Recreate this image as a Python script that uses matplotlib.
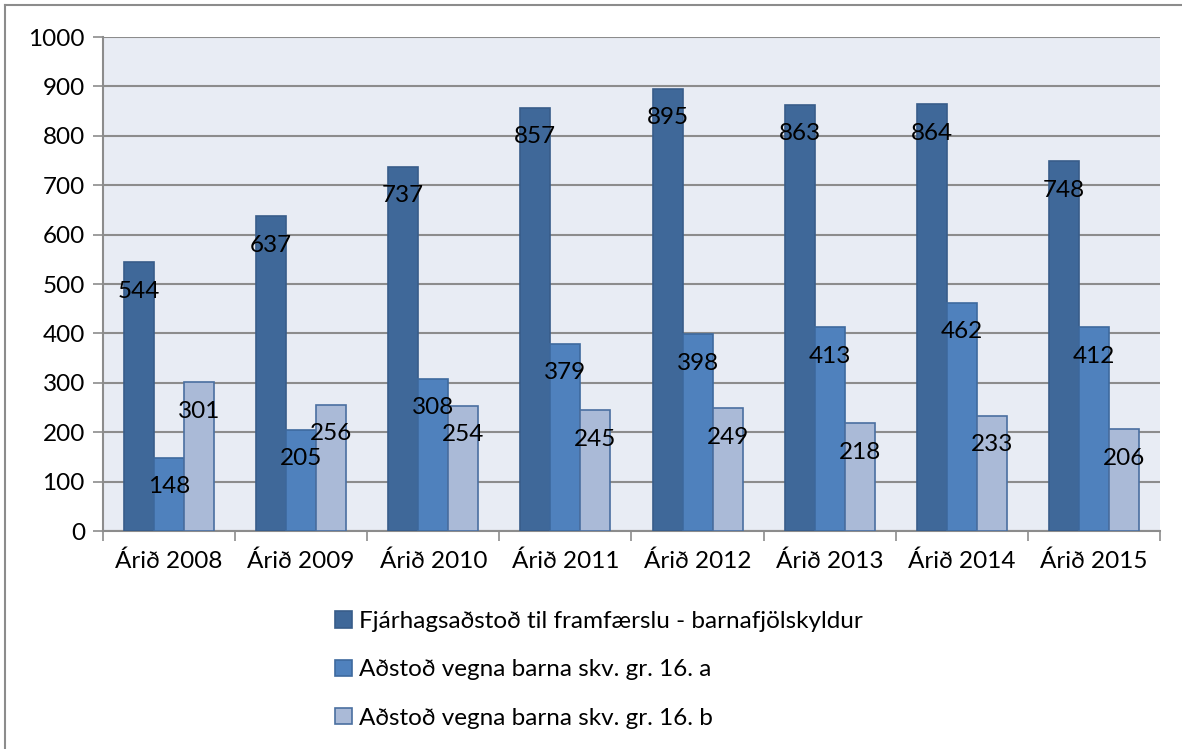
import numpy as np
import matplotlib.pyplot as plt
from matplotlib.lines import Line2D

plt.rcParams['font.family'] = ['Lato', 'DejaVu Sans']

years = ['Árið 2008', 'Árið 2009', 'Árið 2010', 'Árið 2011',
         'Árið 2012', 'Árið 2013', 'Árið 2014', 'Árið 2015']
framfaersla = [544, 637, 737, 857, 895, 863, 864, 748]
grein_16a = [148, 205, 308, 379, 398, 413, 462, 412]
grein_16b = [301, 256, 254, 245, 249, 218, 233, 206]

series = [
    ('Fjárhagsaðstoð til framfærslu - barnafjölskyldur', framfaersla, '#3F6899', '#385D8A'),
    ('Aðstoð vegna barna skv. gr. 16. a', grein_16a, '#4F81BD', '#3E6A9E'),
    ('Aðstoð vegna barna skv. gr. 16. b', grein_16b, '#AABAD7', '#4A6FA0'),
]

fig = plt.figure(figsize=(11.82, 7.49), dpi=100)
ax = fig.add_axes([0.0871, 0.291, 0.8943, 0.6596])
ax.set_facecolor('#E8ECF4')

x = np.arange(len(years))
w = 0.227
for i, (name, vals, fc, ec) in enumerate(series):
    pos = x + (i - 1) * w
    ax.bar(pos, vals, w, color=fc, edgecolor=ec, linewidth=1.2, label=name, zorder=3)
    for px, v in zip(pos, vals):
        ax.annotate(str(v), (px, v), xytext=(0, -29), textcoords='offset pixels',
                    ha='center', va='center', fontsize=17.5, color='black', zorder=4)

ax.set_xlim(-0.5, len(years) - 0.5)
ax.set_ylim(0, 1000)
ax.set_yticks(range(0, 1001, 100))
ax.yaxis.grid(True, color='#8C8C8C', linewidth=1.5, zorder=1)
ax.set_axisbelow(True)

ax.set_xticks(x)
ax.set_xticklabels(years)
ax.set_xticks(np.arange(-0.5, len(years)), minor=True)
ax.tick_params(axis='x', which='major', length=0, labelsize=17.5, pad=14)
ax.tick_params(axis='x', which='minor', length=7, width=1.2, color='#8C8C8C', direction='out')
ax.tick_params(axis='y', length=7, width=1.2, color='#8C8C8C', labelsize=17.5, pad=6)

for s in ['top', 'right']:
    ax.spines[s].set_visible(False)
for s in ['left', 'bottom']:
    ax.spines[s].set_color('#8C8C8C')
    ax.spines[s].set_linewidth(1.5)

handles = [plt.Rectangle((0, 0), 1, 1, facecolor=fc, edgecolor=ec, linewidth=1.2)
           for _, _, fc, ec in series]
fig.legend(handles, [s[0] for s in series], loc='upper left',
           bbox_to_anchor=(0.2755, 0.197), frameon=False, fontsize=17.5,
           handlelength=0.68, handleheight=0.68, handletextpad=0.3,
           labelspacing=1.12, borderaxespad=0)

# chart frame, only top and left edges show
fig.add_artist(Line2D([0.0042, 0.0042], [0, 0.9933], transform=fig.transFigure,
                      color='#8C8C8C', linewidth=1.5))
fig.add_artist(Line2D([0.0042, 1], [0.9933, 0.9933], transform=fig.transFigure,
                      color='#8C8C8C', linewidth=1.5))

fig.savefig('out.png', dpi=100)
